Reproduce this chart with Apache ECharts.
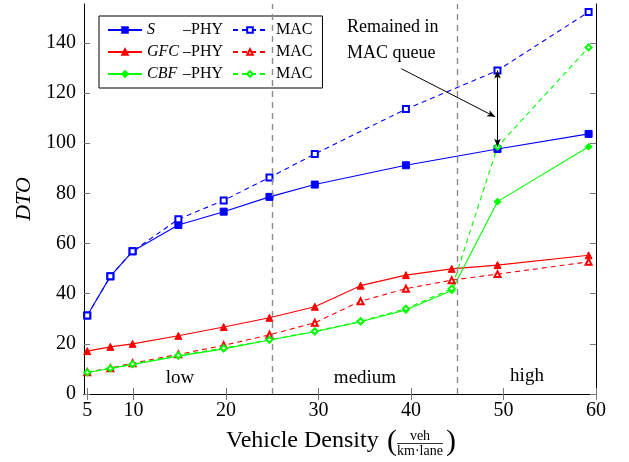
<!DOCTYPE html>
<html>
<head>
<meta charset="utf-8">
<script src="https://cdn.jsdelivr.net/npm/echarts@6/dist/echarts.min.js"></script>
<style>
  html, body { margin: 0; padding: 0; background: #fff; }
  #chart { width: 629px; height: 462px; }
</style>
</head>
<body>
<div id="chart"></div>
<script>
// vehicle density (x) values
var densAll = [5, 7.5, 9.9, 14.85, 19.75, 24.7, 29.6, 34.55, 39.45, 44.4, 49.35, 59.2];
var densS = [5, 7.5, 9.9, 14.85, 19.75, 24.7, 29.6, 39.45, 49.35, 59.2];

// DTO values
var sPhy = [31.3, 46.9, 56.9, 67.4, 72.7, 78.6, 83.5, 91.2, 97.7, 103.7];
var sMac = [31.3, 46.9, 56.9, 69.7, 77.2, 86.3, 95.7, 113.6, 129, 152.3];
var gfcPhy = [17.1, 18.8, 20, 23.2, 26.7, 30.4, 34.8, 43.2, 47.4, 49.9, 51.4, 55.3];
var gfcMac = [8.7, 10.3, 12.3, 15.8, 19.4, 23.6, 28.4, 37, 42, 45.4, 47.8, 52.7];
var cbfPhy = [8.6, 10.2, 11.8, 15.1, 18, 21.5, 24.8, 28.8, 33.5, 41.3, 76.7, 98.6];
var cbfMac = [8.6, 10.2, 11.9, 15.4, 18.3, 21.6, 25, 29, 34, 42, 98.6, 138.2];

var xTicks = [5, 10, 20, 30, 40, 50, 60];
var yTicks = [0, 20, 40, 60, 80, 100, 120, 140];
var regionBounds = [25, 45];

function pairs(xs, ys) {
  return ys.map(function (y, i) { return [xs[i], y]; });
}

var serif = 'Liberation Serif';
var blue = '#0000ff', red = '#ff0000', green = '#00ff00';

function mkSeries(name, xs, ys, color, dashed, symbol, size) {
  return {
    name: name,
    type: 'line',
    data: pairs(xs, ys),
    symbol: symbol,
    symbolSize: size,
    showAllSymbol: true,
    lineStyle: { color: color, width: 1.1, type: dashed ? [5, 4] : 'solid' },
    itemStyle: { color: color, borderColor: color, borderWidth: 1 },
    animation: false
  };
}

var series = [
  mkSeries('S-PHY', densS, sPhy, blue, false, 'rect', 7),
  mkSeries('S-MAC', densS, sMac, blue, true, 'emptyRect', 6),
  mkSeries('GFC-PHY', densAll, gfcPhy, red, false, 'triangle', 7),
  mkSeries('GFC-MAC', densAll, gfcMac, red, true, 'emptyTriangle', 6),
  mkSeries('CBF-PHY', densAll, cbfPhy, green, false, 'diamond', 7),
  mkSeries('CBF-MAC', densAll, cbfMac, green, true, 'emptyDiamond', 6)
];

// region separators and the "remained in MAC queue" arrows
series[0].markLine = {
  silent: true,
  animation: false,
  symbol: ['none', 'none'],
  label: { show: false },
  data: [
    { xAxis: regionBounds[0], lineStyle: { color: '#8c8c8c', type: [6, 5], width: 1.4 } },
    { xAxis: regionBounds[1], lineStyle: { color: '#8c8c8c', type: [6, 5], width: 1.4 } },
    [
      { coord: [38.96, 129.7], symbol: 'none', lineStyle: { color: '#000', type: 'solid', width: 1 } },
      { coord: [49.1, 110.5], symbol: 'arrow', symbolSize: [5, 8] }
    ],
    [
      { coord: [49.35, 129], symbol: 'arrow', symbolSize: [5, 8], lineStyle: { color: '#000', type: 'solid', width: 1 } },
      { coord: [49.35, 98.6], symbol: 'arrow', symbolSize: [5, 8] }
    ]
  ]
};

var labelNames = { 'S-PHY': 'S', 'GFC-PHY': 'GFC', 'CBF-PHY': 'CBF' };

var chart = echarts.init(document.getElementById('chart'), null, { renderer: 'canvas' });

var tickStyle = { show: true, inside: true, length: 6, lineStyle: { color: '#777', width: 1 } };

chart.setOption({
  backgroundColor: '#fff',
  animation: false,
  grid: { left: 84, right: 33, top: 4, bottom: 68, show: false },
  legend: {
    data: ['S-PHY', 'S-MAC', 'GFC-PHY', 'GFC-MAC', 'CBF-PHY', 'CBF-MAC'],
    orient: 'horizontal',
    left: 99,
    top: 16,
    width: 212,
    padding: [6, 10, 6, 8],
    itemGap: 6,
    itemWidth: 34,
    itemHeight: 7,
    borderColor: '#000',
    borderWidth: 1,
    backgroundColor: '#fff',
    selectedMode: false,
    formatter: function (name) {
      if (labelNames[name]) return '{i|' + labelNames[name] + '}{p|\u2013PHY}';
      return '{m|MAC}';
    },
    textStyle: {
      fontFamily: serif, fontSize: 16, color: '#000', lineHeight: 16,
      rich: {
        i: { fontFamily: serif, fontSize: 16, fontStyle: 'italic', width: 36, color: '#000' },
        p: { fontFamily: serif, fontSize: 16, width: 43, color: '#000' },
        m: { fontFamily: serif, fontSize: 16, padding: [0, 0, 0, 4], color: '#000' }
      }
    }
  },
  xAxis: [
    {
      type: 'value', min: 4.65, max: 60,
      axisLine: { show: true, lineStyle: { color: '#000', width: 1 } },
      axisTick: Object.assign({ customValues: xTicks }, tickStyle),
      axisLabel: { customValues: xTicks, fontFamily: serif, fontSize: 20, color: '#000', margin: 7 },
      splitLine: { show: false }
    },
    {
      type: 'value', min: 4.65, max: 60, position: 'top',
      axisLine: { show: true, lineStyle: { color: '#000', width: 1 } },
      axisTick: Object.assign({ customValues: xTicks }, tickStyle),
      axisLabel: { show: false },
      splitLine: { show: false }
    }
  ],
  yAxis: [
    {
      type: 'value', min: 0, max: 155.5,
      name: 'DTO', nameLocation: 'middle', nameGap: 44,
      nameTextStyle: { fontFamily: serif, fontSize: 22, fontStyle: 'italic', color: '#000' },
      axisLine: { show: true, lineStyle: { color: '#000', width: 1 } },
      axisTick: Object.assign({ customValues: yTicks }, tickStyle),
      axisLabel: { customValues: yTicks, fontFamily: serif, fontSize: 20, color: '#000', margin: 8 },
      splitLine: { show: false }
    },
    {
      type: 'value', min: 0, max: 155.5, position: 'right',
      axisLine: { show: true, lineStyle: { color: '#000', width: 1 } },
      axisTick: Object.assign({ customValues: yTicks }, tickStyle),
      axisLabel: { show: false },
      splitLine: { show: false }
    }
  ],
  series: series,
  graphic: [
    { type: 'text', left: 347, top: 18, style: { text: 'Remained in', font: '18px "Liberation Serif"', fill: '#000' } },
    { type: 'text', left: 347, top: 44, style: { text: 'MAC queue', font: '18px "Liberation Serif"', fill: '#000' } },
    { type: 'text', x: 180, y: 378, style: { text: 'low', font: '19px "Liberation Serif"', fill: '#000', align: 'center', verticalAlign: 'middle' } },
    { type: 'text', x: 365, y: 378, style: { text: 'medium', font: '19px "Liberation Serif"', fill: '#000', align: 'center', verticalAlign: 'middle' } },
    { type: 'text', x: 527, y: 376, style: { text: 'high', font: '19px "Liberation Serif"', fill: '#000', align: 'center', verticalAlign: 'middle' } },
    // x-axis title with fraction unit
    { type: 'text', x: 226, y: 441, style: { text: 'Vehicle Density', font: '24px "Liberation Serif"', fill: '#000', verticalAlign: 'middle' } },
    { type: 'text', x: 387, y: 442, style: { text: '(', font: '30px "Liberation Serif"', fill: '#000', verticalAlign: 'middle' } },
    { type: 'text', x: 420, y: 436, style: { text: 'veh', font: '14px "Liberation Serif"', fill: '#000', align: 'center', verticalAlign: 'middle' } },
    { type: 'line', shape: { x1: 397, y1: 443.5, x2: 443, y2: 443.5 }, style: { stroke: '#000', lineWidth: 0.8 } },
    { type: 'text', x: 420, y: 451, style: { text: 'km\u00b7lane', font: '14px "Liberation Serif"', fill: '#000', align: 'center', verticalAlign: 'middle' } },
    { type: 'text', x: 446, y: 442, style: { text: ')', font: '30px "Liberation Serif"', fill: '#000', verticalAlign: 'middle' } }
  ]
});

window.addEventListener('resize', chart.resize);
</script>
</body>
</html>
